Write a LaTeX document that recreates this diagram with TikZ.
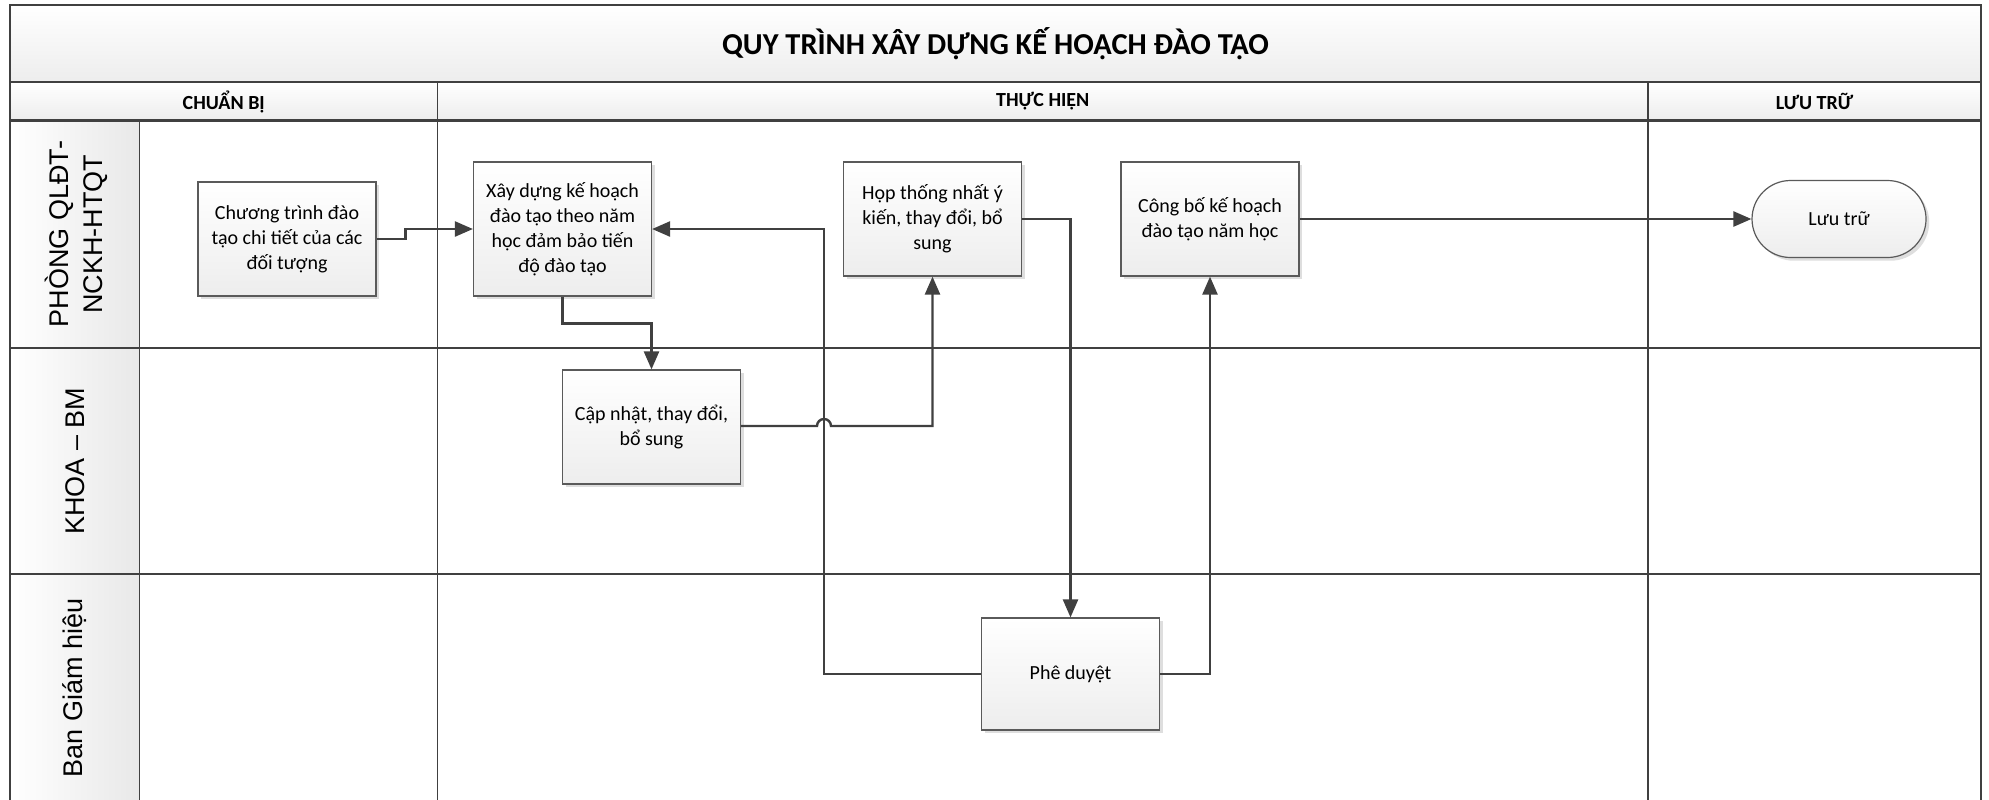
\documentclass[tikz,border=0pt]{standalone}
\usepackage{fontspec}
\setmainfont{Carlito}
\newfontfamily\lanefont{Liberation Sans}
\usetikzlibrary{arrows.meta,shadows,shapes.misc}
\definecolor{ln}{HTML}{404040}
\definecolor{bx}{HTML}{5A5A5A}
\tikzset{
  boxbase/.style={draw=bx, line width=0.6pt, top color=white, bottom color=black!7,
    align=center, font=\fontsize{10}{12.5}\selectfont, inner sep=2pt,
    drop shadow={shadow xshift=1.6pt, shadow yshift=-1.6pt, fill=black!13, opacity=1}},
  procbox/.style={boxbase, rectangle, minimum width=89pt, minimum height=57pt},
  termbox/.style={boxbase, rounded rectangle, minimum width=91pt, minimum height=38.5pt},
  conn/.style={draw=ln, line width=1.2pt, -{Triangle[length=9pt,width=7.5pt]}},
  laneline/.style={draw=ln, line width=1.2pt},
  colline/.style={draw=ln, line width=0.9pt},
  lanelabel/.style={rotate=90, align=center, font=\lanefont\fontsize{13.5}{17}\selectfont},
  headtext/.style={font=\bfseries\fontsize{10}{12}\selectfont},
}
\begin{document}
\begin{tikzpicture}[x=0.5pt,y=-0.5pt]
\useasboundingbox (0,0) rectangle (1989,799);
\clip (0,0) rectangle (1989,799);
% background bands
\fill[white] (0,0) rectangle (1989,799);
\fill[top color=white, bottom color=black!7] (10,5) rectangle (1981,82);
\fill[top color=white, bottom color=black!7] (10,82) rectangle (1981,120.5);
\fill[left color=white, right color=black!9] (10,120.5) rectangle (139.5,820);
% grid lines
\draw[colline] (437.5,82) -- (437.5,820);
\draw[colline] (1648,82) -- (1648,820);
\draw[colline] (139.5,120.5) -- (139.5,820);
\draw[laneline] (10,82) -- (1981,82);
\draw[laneline] (10,120.5) -- (1981,120.5);
\draw[laneline] (10,348) -- (1981,348);
\draw[laneline] (10,574) -- (1981,574);
\draw[laneline] (10,820) -- (10,5) -- (1981,5) -- (1981,820);
% headings
\node[font=\bfseries\fontsize{15.2}{18}\selectfont] (title) at (995.5,43.5) {QUY TRÌNH XÂY DỰNG KẾ HOẠCH ĐÀO TẠO};
\node[headtext] (h1) at (223.75,101.5) {CHUẨN BỊ};
\node[headtext] (h2) at (1042.75,101.5) {THỰC HIỆN};
\node[headtext] (h3) at (1814.5,101.5) {LƯU TRỮ};
% lane labels
\node[lanelabel] (l1) at (76,234) {PHÒNG QLĐT-\\NCKH-HTQT};
\node[lanelabel] (l2) at (75,461) {KHOA – BM};
\node[lanelabel] (l3) at (75,688) {Ban Giám hiệu};
% process boxes
\node[procbox] (b1) at (287,239) {Chương trình đào\\tạo chi tiết của các\\đối tượng};
\node[procbox, minimum height=67pt] (b2) at (562.5,229) {Xây dựng kế hoạch\\đào tạo theo năm\\học đảm bảo tiến\\độ đào tạo};
\node[procbox] (b3) at (651.5,427) {Cập nhật, thay đổi,\\bổ sung};
\node[procbox] (b4) at (932.5,219) {Họp thống nhất ý\\kiến, thay đổi, bổ\\sung};
\node[procbox] (b5) at (1210,219) {Công bố kế hoạch\\đào tạo năm học};
\node[procbox, minimum height=56pt] (b6) at (1070.5,674) {Phê duyệt};
\node[termbox] (b7) at (1839,219) {Lưu trữ};
% connectors
\draw[conn] (b1.east) -- ++(29,0) |- (b2.west);
\draw[conn] (b2.south) -- ++(0,27) -| (b3.north);
\coordinate (hopA) at (817,426);
\draw[conn] (b3.east |- hopA) -- (hopA) arc[start angle=180, end angle=0, radius=3.5pt] -- (b4.south |- hopA) -- (b4.south);
\draw[conn] (b4.east) -| (b6.north);
\coordinate (j1) at (824,229);
\draw[conn] (b6.west) -| (j1) -- (b2.east);
\draw[conn] (b6.east) -| (b5.south);
\draw[conn] (b5.east) -- (b7.west);
\end{tikzpicture}
\end{document}
